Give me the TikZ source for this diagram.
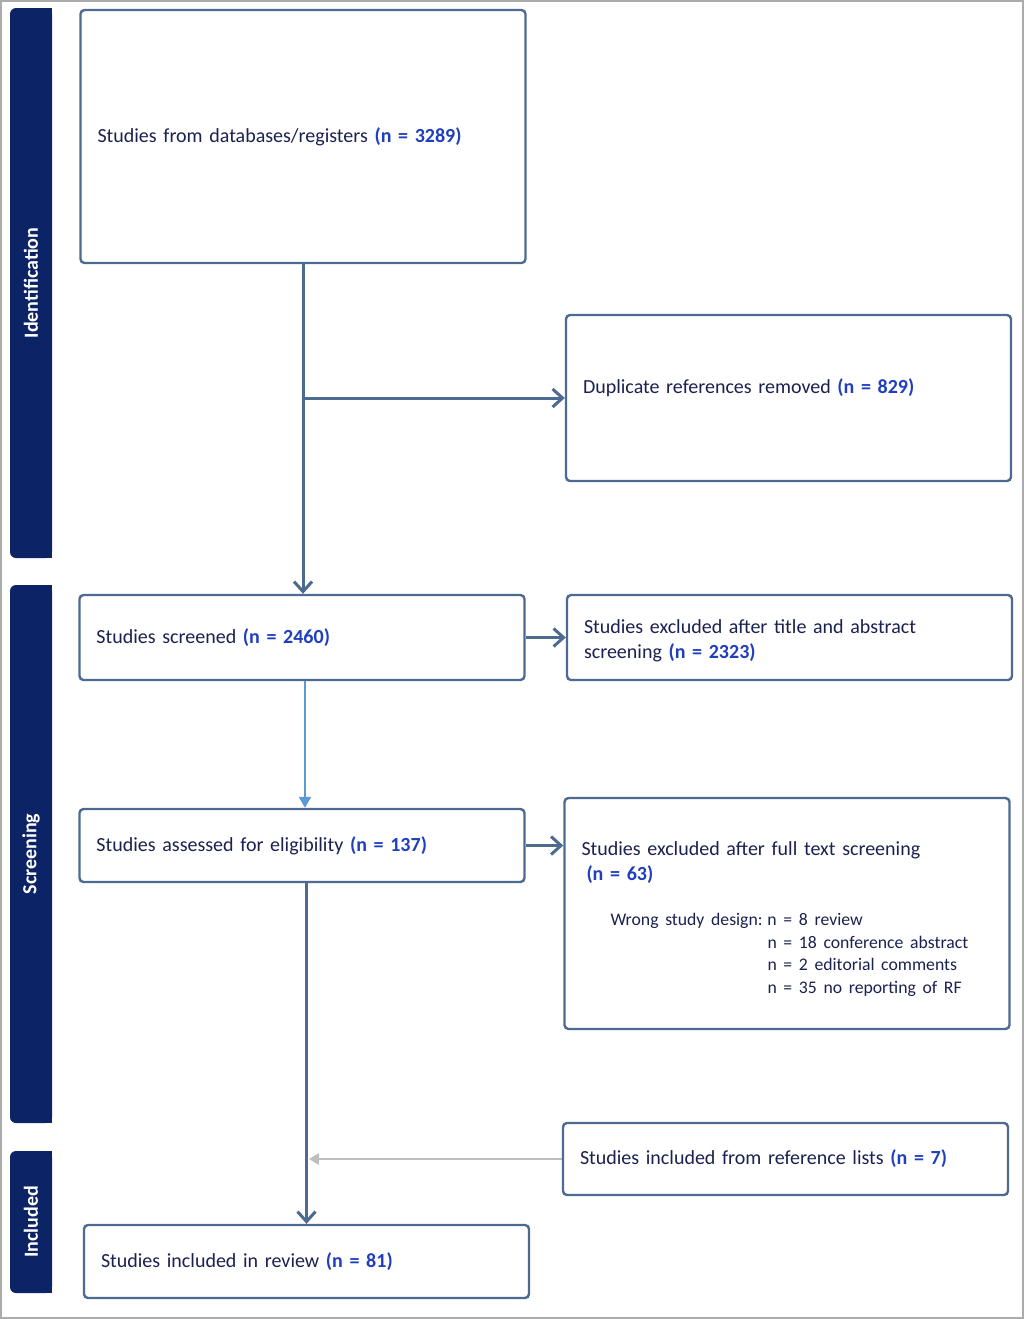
\documentclass[tikz,border=0pt]{standalone}
\usepackage{fontspec}
\setmainfont{Carlito}
\usetikzlibrary{arrows.meta}
\definecolor{framecol}{HTML}{4D6A91}
\definecolor{barcol}{HTML}{0C2466}
\definecolor{txtcol}{HTML}{1B2150}
\definecolor{numcol}{HTML}{1F3FBF}
\definecolor{feedcol}{HTML}{5B9BD5}
\definecolor{refcol}{HTML}{BDBDBD}
\definecolor{edgecol}{HTML}{ABABAB}
\tikzset{
    prisma diagram/.style = {x=0.5pt, y=-0.5pt,
                             >={Straight Barb[length=5pt,width=9pt]}},
    line/.style        = {draw=framecol, line width=1.5pt},
    block/.style       = {draw=framecol, line width=1.2pt, rounded corners=2pt,
                          fill=white, text=txtcol, align=left,
                          text width=205.5pt, inner xsep=8.5pt,
                          font=\fontsize{10}{12.5}\selectfont},
    phase/.style       = {fill=barcol},
    phase label/.style = {rotate=90, text=white,
                          font=\fontsize{10}{12}\selectfont\bfseries}
}
\newcommand{\ncount}[1]{{\bfseries\color{numcol}(n = #1)}}
\newcommand{\reason}{\fontsize{8.85}{12.5}\selectfont}

\begin{document}
\begin{tikzpicture}[prisma diagram]
\useasboundingbox (0,0) rectangle (1024,1319);
\draw[edgecol, line width=1pt] (1,1) rectangle (1023,1318);

% phase bars
\foreach \top/\bottom/\name/\title in {8/558/identification/Identification,
    585/1123/screening/Screening, 1151/1293/inclusion/Included} {
    \fill[phase, rounded corners=3pt] (10,\top) rectangle (52,\bottom);
    \fill[phase] (40,\top) rectangle (52,\bottom);
    \node[phase label] (\name) at (31,{(\top+\bottom)/2}) {\title};
}

\node[block, minimum height=126.5pt] (records) at (303,136.5)
    {Studies from databases/registers \ncount{3289}};
\node[block, minimum height=83pt] (duplicates) at (788.5,398)
    {\raisebox{5pt}[\height][\depth]{Duplicate references removed \ncount{829}}};
\node[block, minimum height=42.5pt] (screened) at (302,637.5)
    {Studies screened \ncount{2460}};
\node[block, minimum height=42.5pt] (excltitle) at (789.5,637.5)
    {\rule{0pt}{10pt}Studies excluded after title and abstract\\screening \ncount{2323}};
\node[block, minimum height=36.5pt] (assessed) at (302,845.5)
    {Studies assessed for eligibility \ncount{137}};
\node[block, minimum height=115.5pt] (excltext) at (787,913.5)
    {\rule{0pt}{12.5pt}Studies excluded after full text screening\\
     \hspace*{2.5pt}\ncount{63}\\[10pt]
     \reason\hspace*{14.5pt}\makebox[78.5pt][l]{Wrong study design:}n = 8 review\\[-1.2pt]
     \hspace*{93pt}n = 18 conference abstract\\[-1.2pt]
     \hspace*{93pt}n = 2 editorial comments\\[-1.2pt]
     \hspace*{93pt}n = 35 no reporting of RF};
\node[block, minimum height=36pt] (reflists) at (785.5,1159)
    {Studies included from reference lists \ncount{7}};
\node[block, minimum height=36.5pt] (included) at (306.5,1261.5)
    {Studies included in review \ncount{81}};

\draw[->,line] (records.south) -- (records.south |- screened.north);
\coordinate (split) at (records.south |- duplicates.west);
\draw[->,line] (split) -- (duplicates.west);
\draw[->,line] (screened.east) -- (excltitle.west);
\draw[-{Triangle[length=5.5pt,width=6pt]}, draw=feedcol, line width=1.3pt]
    ([xshift=1.5pt]screened.south) -- ([xshift=1.5pt]screened.south |- assessed.north);
\draw[->,line] (assessed.east) -- (assessed.east -| excltext.west);
\draw[->,line] (included.north |- assessed.south) -- (included.north);
\draw[-{Triangle[length=5pt,width=5.5pt]}, draw=refcol, line width=1.3pt]
    (reflists.west) -- ([xshift=1.2pt]included.north |- reflists.west);
\end{tikzpicture}
\end{document}
